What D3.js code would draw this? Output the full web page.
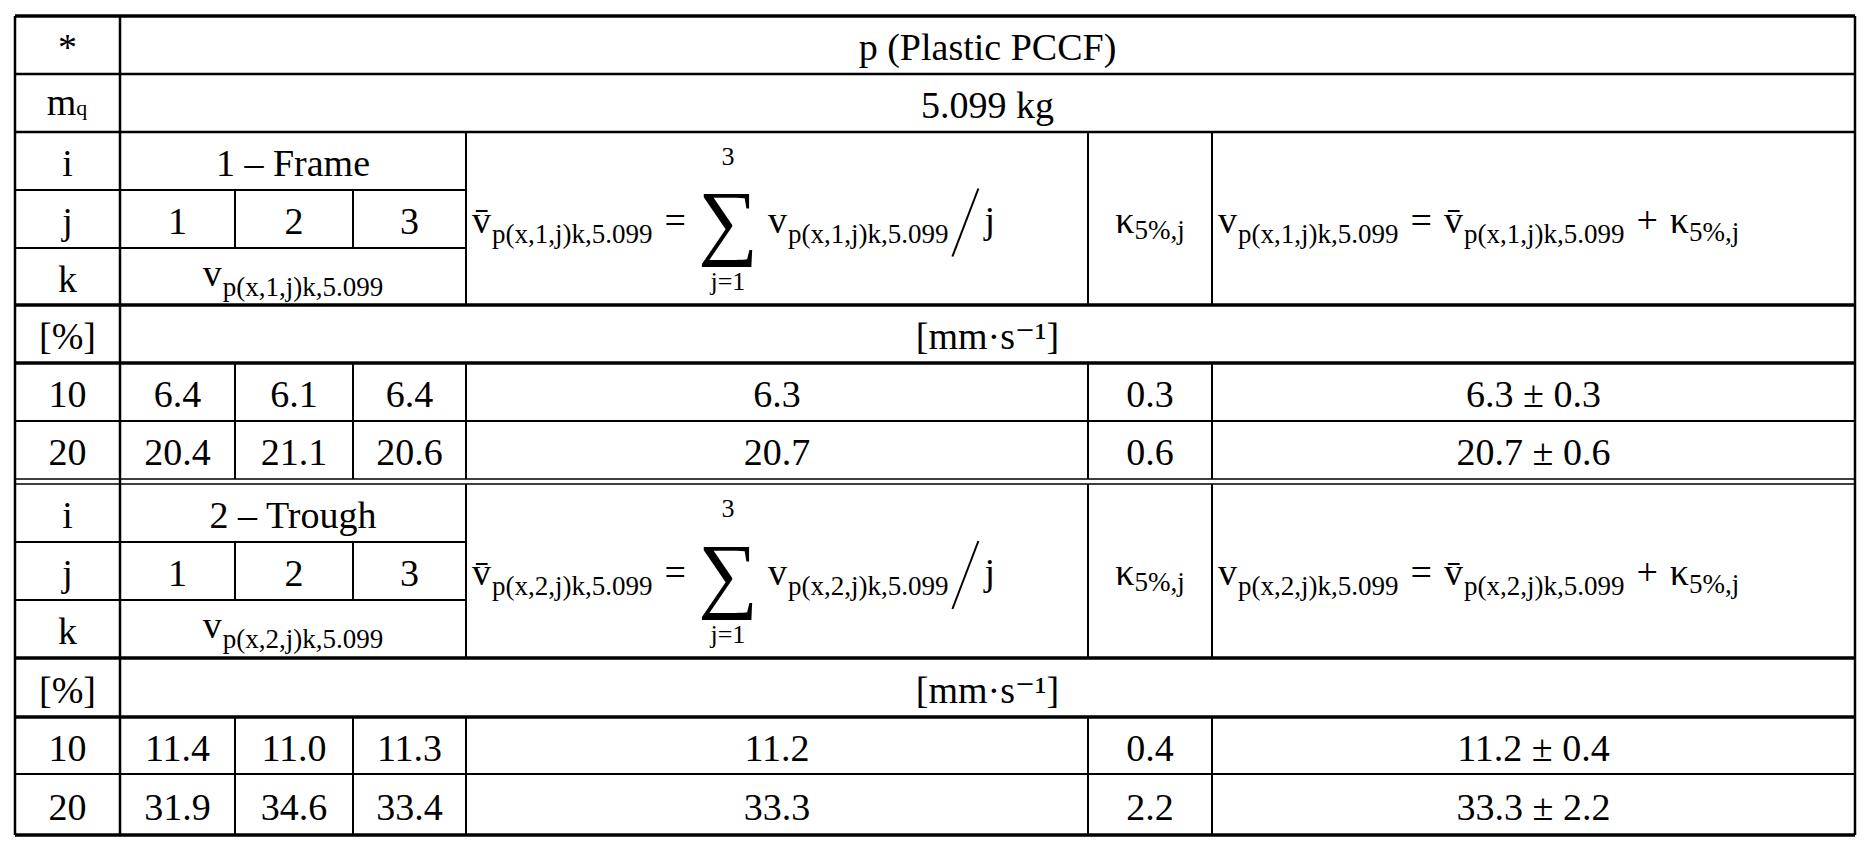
<!DOCTYPE html>
<html><head><meta charset="utf-8">
<script src="https://cdn.jsdelivr.net/npm/d3@7"></script>
<style>body{margin:0;background:#fff}</style></head>
<body><svg id="c" width="1873" height="850"></svg>
<script>
// ---- data ----
const title = "p (Plastic PCCF)";
const mass = "5.099 kg";
const blocks = ["1 – Frame", "2 – Trough"];
const blockIdx = ["1", "2"];
const jLabels = ["1", "2", "3"];
const percents = ["10", "20"];
const frameVals = [[6.4, 6.1, 6.4], [20.4, 21.1, 20.6]];
const frameMean = [6.3, 20.7];
const frameKappa = [0.3, 0.6];
const troughVals = [[11.4, 11.0, 11.3], [31.9, 34.6, 33.4]];
const troughMean = [11.2, 33.3];
const troughKappa = [0.4, 2.2];
const unitLabel = "[mm·s⁻¹]";

// ---- layout ----
const svg = d3.select("#c");
const colEdges = [15, 120, 235, 353, 466, 1088, 1212, 1855];
const rowEdges = [16, 74, 132, 190, 248, 305, 363, 421, 479, 484, 542, 600, 658, 717, 774, 835];
const cx = d3.scaleLinear().domain(d3.range(colEdges.length)).range(colEdges);
const ry = d3.scaleLinear().domain(d3.range(rowEdges.length)).range(rowEdges);
const SERIF = "'Liberation Serif','DejaVu Serif',serif";
const FS = 38, SUB = 27;

function hline(r, c0, c1, w) {
  svg.append("line").attr("x1", cx(c0)).attr("x2", cx(c1)).attr("y1", ry(r)).attr("y2", ry(r))
    .attr("stroke", "#000").attr("stroke-width", w);
}
function vline(c, r0, r1, w) {
  svg.append("line").attr("x1", cx(c)).attr("x2", cx(c)).attr("y1", ry(r0)).attr("y2", ry(r1))
    .attr("stroke", "#000").attr("stroke-width", w);
}
function txt(x, y, s, size, anchor) {
  return svg.append("text").attr("x", x).attr("y", y).attr("font-family", SERIF)
    .attr("font-size", size || FS).attr("text-anchor", anchor || "middle")
    .attr("dominant-baseline", "central").text(s);
}
function cellText(c0, c1, r0, r1, s) { return txt((cx(c0) + cx(c1)) / 2, (ry(r0) + ry(r1)) / 2 + 2, s); }

// sequential math pieces: [text, size, dy, gapAfter, gapBefore]
function mathRow(x, y, pieces, anchor) {
  const g = svg.append("g");
  let cur = 0;
  pieces.forEach(p => {
    cur += (p[4] || 0);
    const t = g.append("text").attr("x", cur).attr("y", p[2] || 0).attr("font-family", SERIF)
      .attr("font-size", p[1]).attr("dominant-baseline", "alphabetic").text(p[0]);
    cur += t.node().getComputedTextLength() + (p[3] || 0);
  });
  const off = anchor === "middle" ? -cur / 2 : 0;
  g.attr("transform", `translate(${x + off},${y})`);
  return cur;
}
const vsub = i => [["v", FS, 0, 1], [`p(x,${i},j)k,5.099`, SUB, 10]];
const vbar = i => [["v\u0304", FS, 0, 1], [`p(x,${i},j)k,5.099`, SUB, 10]];
const eq = ["=", FS, 0, 12, 12];
const plus = ["+", FS, 0, 12, 12];

// header
cellText(0, 1, 0, 1, "*"); cellText(1, 7, 0, 1, title);
svg.append("text").attr("x", 67).attr("y", 115).attr("font-family", SERIF).attr("font-size", FS)
  .attr("text-anchor", "middle").text("m").append("tspan").attr("font-size", 22).text("q");
cellText(1, 7, 1, 2, mass);

function block(b, r0, vals, mean, kappa) {
  const bi = blockIdx[b];
  cellText(0, 1, r0, r0 + 1, "i");
  cellText(1, 4, r0, r0 + 1, blocks[b]);
  cellText(0, 1, r0 + 1, r0 + 2, "j");
  jLabels.forEach((j, k) => cellText(1 + k, 2 + k, r0 + 1, r0 + 2, j));
  cellText(0, 1, r0 + 2, r0 + 3, "k");
  mathRow((cx(1) + cx(4)) / 2, ry(r0 + 2) + 38, vsub(bi), "middle");
  const ym = (ry(r0) + ry(r0 + 3)) / 2 + 14;
  // mean formula
  let x = cx(4) + 6;
  x += mathRow(x, ym, vbar(bi).concat([eq]));
  txt(x + 30, ym - 12, "∑", 84);
  txt(x + 30, ry(r0) + 24, "3", 26);
  txt(x + 30, ry(r0 + 3) - 24, "j=1", 26);
  x += 70;
  x += mathRow(x, ym, vsub(bi));
  svg.append("line").attr("x1", x + 4).attr("x2", x + 30).attr("y1", ym + 24).attr("y2", ym - 44)
    .attr("stroke", "#000").attr("stroke-width", 2);
  mathRow(x + 36, ym, [["j", FS, 0]]);
  // kappa
  mathRow((cx(5) + cx(6)) / 2, ym, [["κ", FS, 0], ["5%,j", SUB, 6]], "middle");
  // right formula
  mathRow(cx(6) + 6, ym, vsub(bi).concat([eq], vbar(bi), [plus, ["κ", FS, 0], ["5%,j", SUB, 8]]));
  // units row
  cellText(0, 1, r0 + 3, r0 + 4, "[%]");
  cellText(1, 7, r0 + 3, r0 + 4, unitLabel);
  percents.forEach((p, k) => {
    const r = r0 + 4 + k;
    cellText(0, 1, r, r + 1, p);
    vals[k].forEach((v, m) => cellText(1 + m, 2 + m, r, r + 1, v.toFixed(1)));
    cellText(4, 5, r, r + 1, mean[k].toFixed(1));
    cellText(5, 6, r, r + 1, kappa[k].toFixed(1));
    cellText(6, 7, r, r + 1, `${mean[k].toFixed(1)} ± ${kappa[k].toFixed(1)}`);
  });
  // grid lines for block
  hline(r0 + 1, 0, 4, 2); hline(r0 + 2, 0, 4, 2);
  hline(r0 + 3, 0, 7, 3.5); hline(r0 + 4, 0, 7, 3.5); hline(r0 + 5, 0, 7, 2);
  vline(2, r0 + 1, r0 + 2, 2); vline(3, r0 + 1, r0 + 2, 2);
  vline(2, r0 + 4, r0 + 6, 2); vline(3, r0 + 4, r0 + 6, 2);
  vline(4, r0, r0 + 3, 2); vline(4, r0 + 4, r0 + 6, 2);
  vline(5, r0, r0 + 3, 2); vline(5, r0 + 4, r0 + 6, 2);
  vline(6, r0, r0 + 3, 2); vline(6, r0 + 4, r0 + 6, 2);
}
block(0, 2, frameVals, frameMean, frameKappa);
block(1, 9, troughVals, troughMean, troughKappa);

// outer / main lines
hline(0, 0, 7, 3.5); hline(1, 0, 7, 2.5); hline(2, 0, 7, 2.5);
hline(8, 0, 7, 1.5); hline(9, 0, 7, 1.5);
hline(15, 0, 7, 3.5);
vline(0, 0, 15, 2.5); vline(1, 0, 15, 2.5); vline(7, 0, 15, 2.5);
</script></body></html>
